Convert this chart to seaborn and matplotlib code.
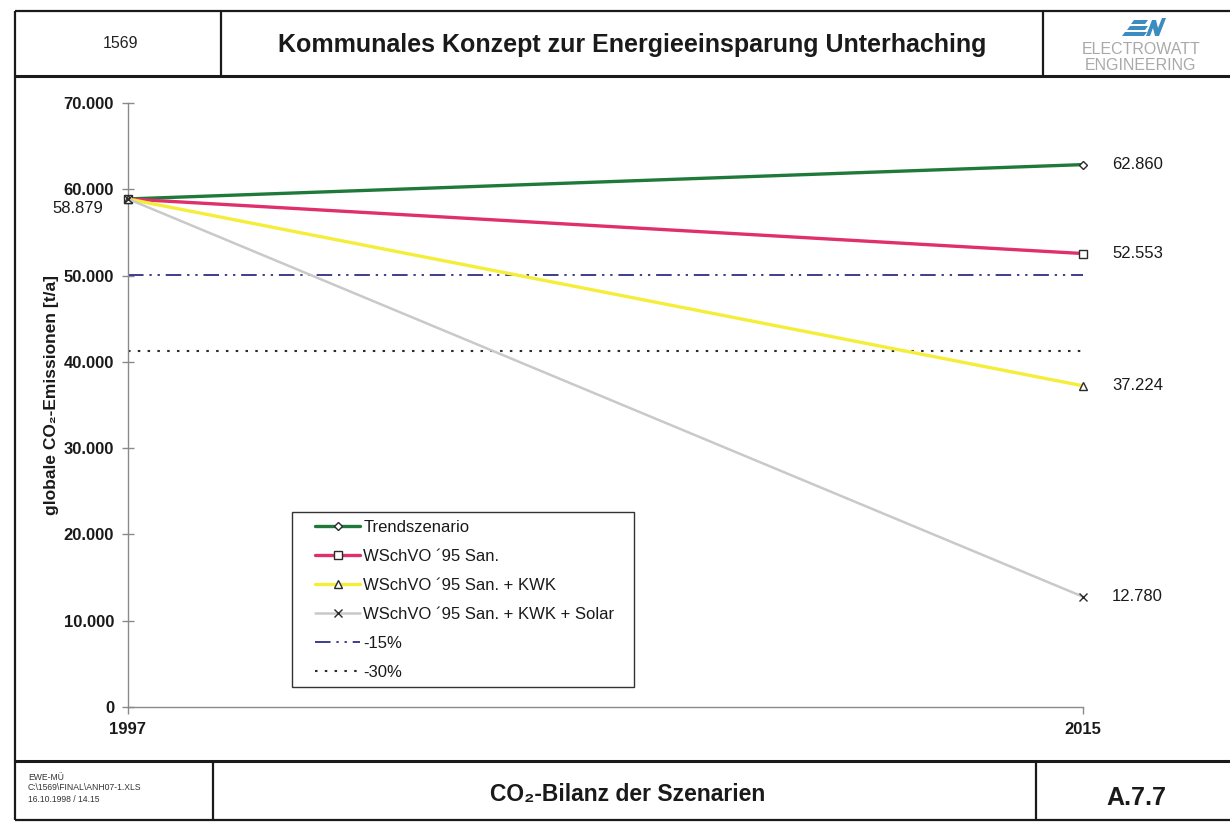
import matplotlib
matplotlib.use("Agg")
import matplotlib.pyplot as plt
from matplotlib.patches import Polygon, Rectangle
import pandas as pd
import seaborn as sns

# ---- data ----------------------------------------------------------------
years = [1997, 2015]
scenarios = [
    "Trendszenario",
    "WSchVO \u00b495 San.",
    "WSchVO \u00b495 San. + KWK",
    "WSchVO \u00b495 San. + KWK + Solar",
]
trend = [58879, 62860]
wschvo = [58879, 52553]
wschvo_kwk = [58879, 37224]
wschvo_kwk_solar = [58879, 12780]
minus15 = [50047, 50047]
minus30 = [41215, 41215]
ref_labels = ["-15%", "-30%"]
yticks = [0, 10000, 20000, 30000, 40000, 50000, 60000, 70000]

sns.set_theme(style="white")
plt.rcParams["font.family"] = ["Liberation Sans", "DejaVu Sans"]

W, H = 1230, 823
fig = plt.figure(figsize=(W / 100, H / 100), dpi=100)

# full-page overlay in pixel coordinates for the form frame
page = fig.add_axes([0, 0, 1, 1], zorder=0)
page.set_xlim(0, W)
page.set_ylim(H, 0)
page.axis("off")

def px(x0, y0, x1, y1, lw=1.6):
    page.plot([x0, x1], [y0, y1], color="#1a1a1a", lw=lw, solid_capstyle="butt")

px(15, 11, 1230, 11)
px(15, 11, 15, 820)
px(15, 76, 1230, 76, lw=2.2)
px(221, 11, 221, 76)
px(1043, 11, 1043, 76)
px(15, 761, 1230, 761, lw=2.2)
px(15, 820, 1230, 820)
px(213, 761, 213, 820)
px(1036, 761, 1036, 820)

page.text(120, 43, "1569", ha="center", va="center", fontsize=11.5, color="#222222")
page.text(632, 45, "Kommunales Konzept zur Energieeinsparung Unterhaching",
          ha="center", va="center", fontsize=18, fontweight="bold", color="#1a1a1a")

# company logo
blue = "#3b8cc0"
for (x0, y0, w) in [(1131, 20, 14), (1127, 26, 18), (1122, 32, 22)]:
    page.add_patch(Polygon([(x0, y0 + 4), (x0 + 3, y0), (x0 + 3 + w, y0), (x0 + w, y0 + 4)],
                           closed=True, color=blue, lw=0))
page.add_patch(Polygon([(1146, 36), (1152, 20), (1156, 20), (1158, 28), (1162, 18), (1166, 18),
                        (1159, 36), (1155, 36), (1153, 28), (1150, 36)],
                       closed=True, color=blue, lw=0))
page.text(1141, 49, "ELECTROWATT", ha="center", va="center", fontsize=11.5, color="#a9a9a9")
page.text(1141, 65, "ENGINEERING", ha="center", va="center", fontsize=11.5, color="#a9a9a9")

for y, s in [(777, "EWE-M\u00dc"), (788, "C:\\1569\\FINAL\\ANH07-1.XLS"), (799, "16.10.1998 / 14.15")]:
    page.text(28, y, s, ha="left", va="center", fontsize=6.2, color="#333333")
page.text(628, 795, "CO\u2082-Bilanz der Szenarien", ha="center", va="center",
          fontsize=16.5, fontweight="bold", color="#1a1a1a")
page.text(1136, 798, "A.7.7", ha="center", va="center", fontsize=18,
          fontweight="bold", color="#1a1a1a")

# ---- chart ---------------------------------------------------------------
ax = fig.add_axes([128 / W, 1 - 707 / H, (1083 - 128) / W, 604 / H], zorder=2)
ax.set_facecolor("none")

series = [
    (scenarios[0], trend, "#1f7a3a", 2.4, "-", "D", 4.5),
    (scenarios[1], wschvo, "#e0306b", 2.4, "-", "s", 5.5),
    (scenarios[2], wschvo_kwk, "#f4ee3a", 2.4, "-", "^", 5.5),
    (scenarios[3], wschvo_kwk_solar, "#c9c9c9", 1.8, "-", "x", 6),
]
for name, vals, col, lw, ls, mk, ms in series:
    df = pd.DataFrame({"Jahr": years, "CO2": vals})
    sns.lineplot(data=df, x="Jahr", y="CO2", ax=ax, color=col, lw=lw, linestyle=ls,
                 marker=mk, markersize=ms, markerfacecolor="white",
                 markeredgecolor="#2a2a2a", markeredgewidth=1.0, label=name,
                 clip_on=False, zorder=3)

sns.lineplot(data=pd.DataFrame({"Jahr": years, "CO2": minus15}), x="Jahr", y="CO2", ax=ax,
             color="#3d3d8f", lw=1.4, linestyle=(0, (8, 3, 1.2, 3, 1.2, 3)),
             label=ref_labels[0], zorder=2)
sns.lineplot(data=pd.DataFrame({"Jahr": years, "CO2": minus30}), x="Jahr", y="CO2", ax=ax,
             color="#2a2a2a", lw=1.5, linestyle=(0, (1.2, 3.5)),
             label=ref_labels[1], zorder=2)

ax.set_xlim(years[0], years[1])
ax.set_ylim(0, 70000)
ax.set_xticks(years)
ax.set_xticklabels([str(y) for y in years])
ax.set_yticks(yticks)
ax.set_yticklabels([f"{v:,}".replace(",", ".") for v in yticks])
ax.set_xlabel("")
ax.set_ylabel("globale CO\u2082-Emissionen [t/a]", fontsize=12.5, fontweight="bold",
              color="#1a1a1a")
ax.yaxis.set_label_coords(-0.08, 0.517)
ax.yaxis.label.set_va("center")

for side in ["top", "right"]:
    ax.spines[side].set_visible(False)
for side in ["left", "bottom"]:
    ax.spines[side].set_color("#8a8a8a")
    ax.spines[side].set_linewidth(1.0)
ax.tick_params(axis="y", direction="inout", length=8, width=1, color="#8a8a8a",
               labelsize=12, labelcolor="#1a1a1a", pad=6, left=True)
ax.tick_params(axis="x", direction="out", length=5, width=1, color="#8a8a8a",
               labelsize=12, labelcolor="#1a1a1a", pad=6, bottom=True)
for t in ax.get_yticklabels() + ax.get_xticklabels():
    t.set_fontweight("semibold")

# value labels
def lbl(v):
    return f"{v:,}".replace(",", ".")

ax.annotate(lbl(trend[0]), (years[0], trend[0]), xytext=(-18, -7), textcoords="offset points",
            ha="right", va="center", fontsize=12, color="#1a1a1a")
for _, vals, *_ in series:
    ax.annotate(lbl(vals[1]), (years[1], vals[1]), xytext=(21, 0), textcoords="offset points",
                ha="left", va="center", fontsize=12, color="#1a1a1a", annotation_clip=False)

# legend with a plain rectangular frame
leg = ax.legend(loc="upper left", bbox_to_anchor=(315 / W, 1 - 520 / H),
                bbox_transform=fig.transFigure, frameon=False, fontsize=12,
                handlelength=2.7, handletextpad=0.2, labelspacing=0.84,
                borderpad=0, borderaxespad=0, numpoints=1)
for t in leg.get_texts():
    t.set_color("#1a1a1a")
page.add_patch(Rectangle((292, 512), 342, 175, fill=False, ec="#333333", lw=1.0))

fig.savefig("out.png", dpi=100)
